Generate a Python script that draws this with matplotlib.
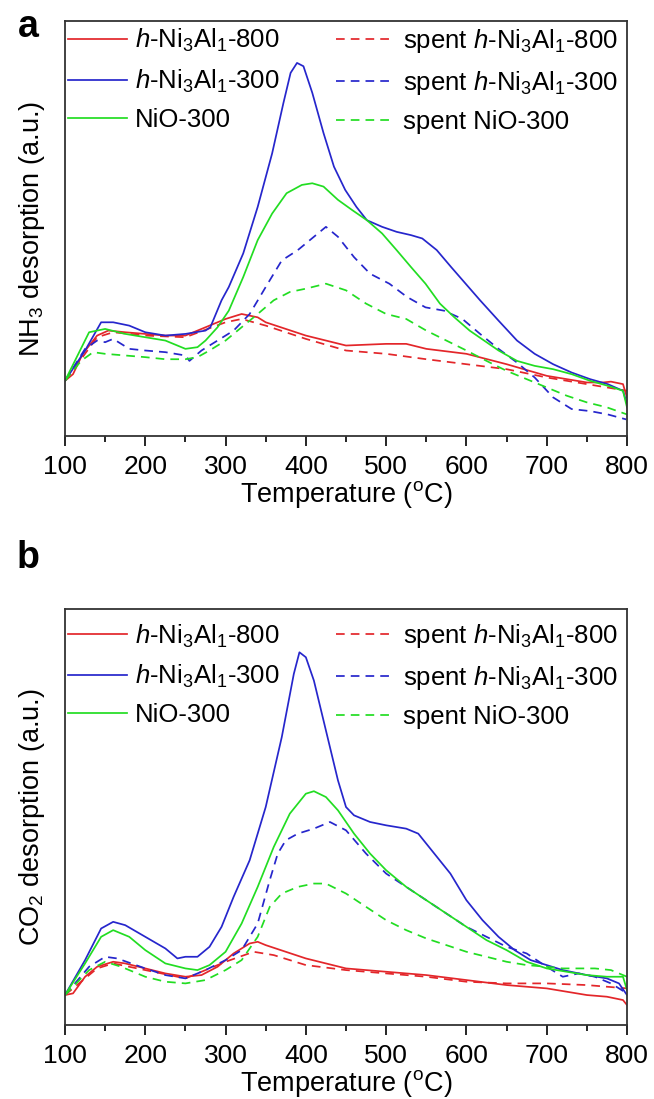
import matplotlib
matplotlib.use("Agg")
import matplotlib.pyplot as plt
from matplotlib.ticker import MultipleLocator

plt.rcParams['font.family'] = ['Liberation Sans', 'DejaVu Sans']
plt.rcParams['mathtext.fontset'] = 'custom'
plt.rcParams['mathtext.rm'] = 'Liberation Sans'
plt.rcParams['mathtext.it'] = 'Liberation Sans:italic'
plt.rcParams['mathtext.bf'] = 'Liberation Sans:bold'

# ---- panel a: NH3-TPD (a.u.) ----
a_h800_T = [100, 110, 122, 140, 154, 175, 200, 225, 250, 275, 300, 320, 340, 350, 375, 400, 425, 450, 500, 525, 550, 600, 650, 700, 750, 770, 780, 795, 800]
a_h800 = [13.3, 14.9, 19.8, 24.2, 25.4, 25.0, 24.6, 24.2, 24.2, 26.2, 28.2, 29.4, 28.6, 27.4, 25.8, 24.2, 23.0, 21.8, 22.2, 22.2, 21.0, 19.8, 17.3, 14.5, 12.9, 12.9, 13.1, 12.5, 9.3]

a_sh800_T = [100, 120, 140, 160, 200, 250, 300, 320, 350, 400, 450, 500, 550, 600, 650, 700, 750, 800]
a_sh800 = [13.3, 18.5, 23.8, 25.0, 24.2, 23.8, 27.4, 28.2, 26.6, 23.4, 20.6, 19.8, 18.5, 17.3, 16.1, 14.1, 12.5, 10.9]

a_h300_T = [100, 125, 145, 160, 180, 200, 225, 250, 275, 281, 295, 304, 322, 340, 358, 372, 381, 389, 397, 408, 422, 435, 449, 463, 476, 495, 513, 531, 545, 563, 581, 599, 617, 640, 663, 685, 708, 731, 754, 776, 795, 800]
a_h300 = [13.3, 20.6, 27.4, 27.4, 26.6, 25.0, 24.2, 24.6, 25.4, 26.2, 32.7, 35.9, 44.0, 55.2, 68.1, 80.2, 87.5, 89.9, 89.1, 82.7, 73.0, 64.9, 59.3, 55.2, 52.0, 50.4, 49.2, 48.4, 47.6, 44.8, 40.7, 36.7, 32.7, 27.8, 23.0, 19.8, 17.3, 15.3, 13.7, 12.5, 10.9, 7.7]

a_sh300_T = [100, 125, 140, 150, 160, 180, 200, 225, 250, 255, 270, 290, 310, 330, 350, 370, 390, 410, 425, 440, 460, 480, 504, 526, 549, 572, 595, 617, 640, 663, 685, 708, 731, 754, 776, 799]
a_sh300 = [13.3, 21.0, 23.0, 22.6, 23.4, 21.0, 20.6, 20.2, 19.4, 18.1, 20.6, 23.0, 25.4, 29.4, 35.9, 42.3, 44.8, 48.0, 50.4, 48.0, 43.1, 39.1, 36.7, 33.5, 31.0, 30.2, 28.2, 24.6, 21.0, 17.7, 14.1, 9.3, 6.5, 6.0, 5.2, 4.0]

a_nio_T = [100, 130, 150, 175, 200, 225, 250, 265, 275, 290, 304, 322, 340, 358, 376, 395, 408, 422, 440, 458, 476, 495, 513, 531, 549, 567, 585, 604, 622, 640, 663, 685, 708, 731, 754, 776, 795, 800]
a_nio = [13.3, 25.0, 25.8, 24.6, 23.8, 23.0, 21.0, 21.4, 23.0, 26.2, 30.2, 38.3, 47.2, 53.6, 58.5, 60.5, 60.9, 60.1, 56.9, 54.4, 52.0, 48.8, 44.8, 40.7, 36.7, 31.9, 28.6, 25.4, 23.0, 20.6, 18.1, 16.9, 16.1, 14.9, 13.3, 12.1, 10.9, 6.9]

a_snio_T = [100, 120, 135, 150, 175, 200, 225, 250, 265, 280, 300, 320, 340, 360, 380, 400, 425, 450, 475, 500, 525, 550, 575, 600, 625, 650, 675, 700, 725, 750, 775, 800]
a_snio = [13.3, 18.1, 20.2, 19.8, 19.4, 19.0, 18.5, 18.5, 19.0, 20.6, 23.0, 26.2, 29.4, 32.7, 34.7, 35.5, 36.7, 35.1, 31.9, 29.4, 28.2, 25.4, 23.0, 20.6, 18.1, 15.7, 13.7, 11.7, 9.7, 8.1, 6.9, 5.2]

# ---- panel b: CO2-TPD (a.u.) ----
b_h800_T = [100, 110, 125, 140, 160, 175, 200, 225, 250, 270, 290, 310, 330, 340, 350, 375, 400, 425, 450, 500, 550, 600, 650, 700, 750, 775, 795, 800]
b_h800 = [7.2, 7.6, 11.6, 14.0, 15.2, 14.8, 13.6, 12.4, 11.6, 12.0, 14.0, 17.2, 19.6, 20.0, 19.2, 17.6, 16.0, 14.8, 13.6, 12.8, 12.0, 10.8, 9.6, 8.8, 7.2, 6.8, 6.0, 4.8]

b_sh800_T = [100, 140, 160, 200, 250, 300, 335, 360, 400, 450, 500, 550, 600, 650, 700, 750, 800]
b_sh800 = [7.2, 13.6, 14.8, 13.2, 11.2, 15.2, 17.6, 16.8, 14.4, 13.2, 12.4, 11.6, 10.4, 10.0, 10.0, 9.6, 8.8]

b_h300_T = [100, 125, 145, 160, 175, 200, 225, 240, 250, 265, 280, 295, 310, 330, 350, 370, 385, 392, 400, 410, 425, 440, 450, 460, 480, 500, 525, 540, 560, 580, 600, 620, 640, 660, 680, 700, 720, 750, 775, 790, 800]
b_h300 = [7.2, 15.6, 23.2, 24.8, 24.0, 21.2, 18.4, 16.0, 16.4, 16.4, 18.8, 23.6, 30.8, 39.6, 52.4, 69.2, 84.4, 89.6, 88.4, 82.8, 70.8, 58.8, 52.4, 50.4, 48.8, 48.0, 47.2, 46.0, 41.2, 36.4, 30.0, 25.2, 21.2, 18.0, 15.6, 14.4, 13.2, 12.0, 11.2, 10.0, 7.2]

b_sh300_T = [100, 130, 150, 165, 200, 225, 250, 275, 300, 320, 340, 355, 365, 375, 390, 410, 430, 450, 475, 500, 525, 550, 575, 600, 625, 650, 675, 700, 720, 740, 760, 780, 800]
b_sh300 = [7.2, 14.0, 16.4, 16.0, 13.6, 12.0, 11.2, 13.2, 15.6, 18.0, 24.4, 34.8, 41.2, 44.4, 46.0, 47.2, 48.8, 46.8, 41.2, 36.4, 33.2, 30.0, 26.8, 23.6, 21.2, 18.8, 17.2, 14.0, 11.6, 12.4, 11.6, 10.0, 7.6]

b_nio_T = [100, 125, 145, 160, 180, 200, 225, 250, 265, 280, 300, 320, 340, 360, 380, 400, 410, 425, 440, 460, 480, 500, 525, 550, 575, 600, 625, 650, 675, 700, 725, 750, 775, 795, 800]
b_nio = [7.2, 14.8, 21.2, 22.8, 21.2, 18.0, 14.8, 13.6, 13.2, 14.4, 17.6, 24.4, 33.2, 42.8, 50.8, 55.6, 56.2, 54.8, 51.6, 46.0, 41.2, 37.2, 33.2, 30.0, 26.8, 23.6, 20.4, 18.0, 15.2, 13.6, 12.8, 12.0, 11.6, 11.6, 8.4]

b_snio_T = [100, 130, 150, 170, 200, 225, 250, 275, 300, 320, 340, 355, 370, 390, 410, 425, 450, 475, 500, 525, 550, 575, 600, 625, 650, 675, 700, 720, 740, 760, 780, 800]
b_snio = [7.2, 13.2, 15.2, 14.0, 11.6, 10.4, 10.0, 10.8, 13.2, 15.6, 21.2, 28.4, 31.6, 33.2, 34.0, 34.0, 31.6, 28.4, 25.2, 22.8, 20.8, 19.2, 17.6, 16.4, 15.2, 14.4, 14.0, 13.6, 13.6, 13.6, 13.2, 11.6]

labels = [r'$h$-Ni$_3$Al$_1$-800', r'spent $h$-Ni$_3$Al$_1$-800',
          r'$h$-Ni$_3$Al$_1$-300', r'spent $h$-Ni$_3$Al$_1$-300',
          'NiO-300', 'spent NiO-300']

red = '#e3262a'
blue = '#2626cc'
green = '#22dd22'
colors = [red, red, blue, blue, green, green]
styles = ['-', '--', '-', '--', '-', '--']

fig = plt.figure(figsize=(6.54, 10.99), dpi=100)
ax_a = fig.add_axes([65/654, 1 - 436/1099, 562/654, 415/1099])
ax_b = fig.add_axes([65/654, 1 - 1025/1099, 562/654, 416/1099])

panels = [
    (ax_a, [(a_h800_T, a_h800), (a_sh800_T, a_sh800), (a_h300_T, a_h300),
            (a_sh300_T, a_sh300), (a_nio_T, a_nio), (a_snio_T, a_snio)],
     r'NH$_3$ desorption (a.u.)', 'a', 0.985, 0.986),
    (ax_b, [(b_h800_T, b_h800), (b_sh800_T, b_sh800), (b_h300_T, b_h300),
            (b_sh300_T, b_sh300), (b_nio_T, b_nio), (b_snio_T, b_snio)],
     r'CO$_2$ desorption (a.u.)', 'b', 0.968, 1.123),
]

for ax, series, ylab, letter, leg_y, let_y in panels:
    handles = []
    for (T, v), c, ls, lab in zip(series, colors, styles, labels):
        if ls == '--':
            ln, = ax.plot(T, v, color=c, ls=ls, lw=1.25, dashes=(5, 3.5), label=lab)
        else:
            ln, = ax.plot(T, v, color=c, ls=ls, lw=1.25, label=lab)
        handles.append(ln)
    # legend order: solid column first, dashed column second
    order = [0, 2, 4, 1, 3, 5]
    ax.legend([handles[i] for i in order], [labels[i] for i in order],
              ncol=2, loc='upper left', bbox_to_anchor=(0.005, leg_y),
              frameon=False, fontsize=18.5, handlelength=2.3,
              handletextpad=0.3, columnspacing=2.2, labelspacing=0.52,
              borderaxespad=0, borderpad=0)
    ax.set_xlim(100, 800)
    ax.set_ylim(0, 100)
    ax.xaxis.set_major_locator(MultipleLocator(100))
    ax.xaxis.set_minor_locator(MultipleLocator(50))
    ax.set_yticks([])
    ax.tick_params(axis='x', which='major', direction='out', length=7, width=1.2,
                   labelsize=19, pad=6.5, top=False)
    ax.tick_params(axis='x', which='minor', direction='out', length=4, width=1.2, top=False)
    for s in ax.spines.values():
        s.set_linewidth(1.3)
        s.set_color('#333333')
    ax.set_xlabel('Temperature ($^{\\mathrm{o}}$C)', fontsize=19.5, labelpad=0)
    ax.set_ylabel(ylab, fontsize=19.5, labelpad=13)
    ax.text(-0.066, let_y, letter, transform=ax.transAxes, fontsize=27,
            fontweight='bold', va='center', ha='center')

fig.savefig('out.png', dpi=100)
